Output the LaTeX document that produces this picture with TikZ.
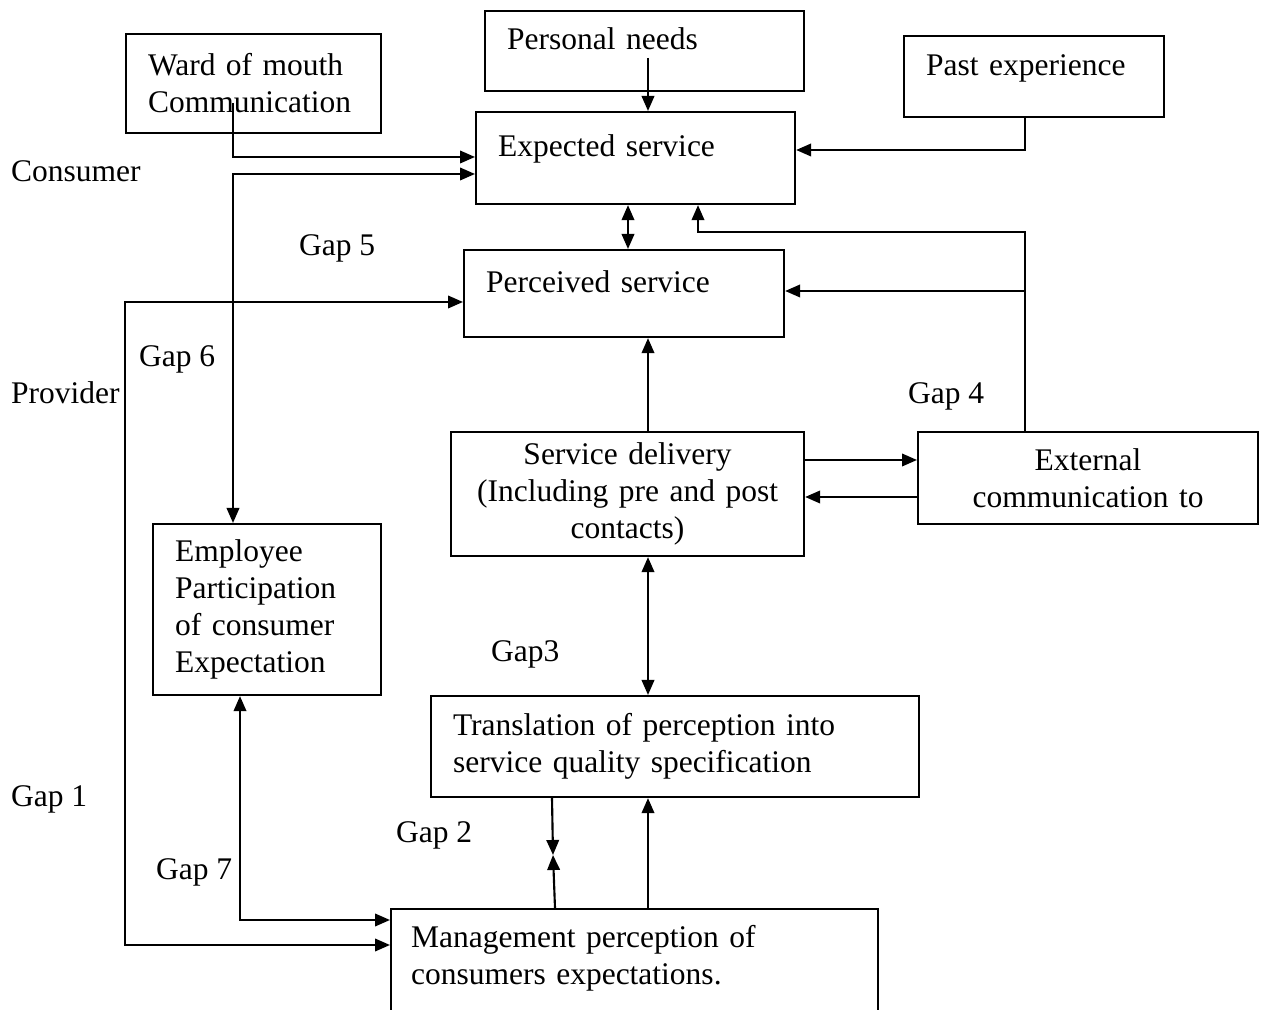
\documentclass[tikz,border=0pt]{standalone}
\usepackage{fontspec}
\setmainfont{Liberation Serif}
\usetikzlibrary{arrows.meta}

\begin{document}
\begin{tikzpicture}[x=0.4pt,y=-0.4pt,line width=0.85pt,
  >={Triangle[length=6pt,width=5pt]},
  box/.style={draw,anchor=north west,inner xsep=8.8pt,inner ysep=0pt,align=left,
    font=\fontsize{12.6}{14.8}\selectfont},
  onebox/.style={box,text height=8pt,text depth=9pt},
  midbox/.style={box,inner xsep=4pt,align=center},
  side/.style={anchor=west,inner sep=0pt,text height=8pt,text depth=0pt,
    font=\fontsize{12.6}{14.8}\selectfont}]
\useasboundingbox (0,0) rectangle (1267,1010);
\clip (0,0) rectangle (1267,1010);

\node[box,text width=84.4pt,minimum width=102pt,minimum height=39.6pt] (wm) at (125,33) {Ward of mouth\\Communication};
\node[onebox,text width=110pt,minimum width=127.6pt,minimum height=32pt] (pn) at (484,10) {Personal needs};
\node[onebox,text width=86.4pt,minimum width=104pt,minimum height=32.4pt] (px) at (903,35) {Past experience};
\node[onebox,text width=110pt,minimum width=127.6pt,minimum height=36.8pt] (es) at (475,111) {Expected service};
\node[onebox,text width=110.4pt,minimum width=128pt,minimum height=34.8pt] (ps) at (463,249) {Perceived service};
\node[midbox,text width=133.2pt,minimum width=141.2pt,minimum height=49.6pt] (sd) at (450,431) {Service delivery\\(Including pre and post\\contacts)};
\node[midbox,text width=128pt,minimum width=136pt,minimum height=36.8pt] (ec) at (917,431) {External\\communication to};
\node[box,text width=73.6pt,minimum width=91.2pt,minimum height=68.4pt] (ep) at (152,523) {Employee\\Participation\\of consumer\\Expectation};
\node[box,text width=177.6pt,minimum width=195.2pt,minimum height=40.4pt] (tq) at (430,695) {Translation of perception into\\service quality specification};
\node[box,inner xsep=8pt,text width=178.8pt,minimum width=194.8pt,minimum height=48.8pt,text height=8pt,text depth=26.4pt] (mp) at (390,908) {Management perception of\\consumers expectations.};

\node[side] (cons) at (10,172) {Consumer};
\node[side] (prov) at (10,394) {Provider};
\node[side] (gap1) at (10,797) {Gap 1};
\node[side] (gap2) at (395,833) {Gap 2};
\node[side] (gap3) at (490,652) {Gap3};
\node[side] (gap4) at (907,394) {Gap 4};
\node[side] (gap5) at (298,246) {Gap 5};
\node[side] (gap6) at (138,357) {Gap 6};
\node[side] (gap7) at (155,870) {Gap 7};

\coordinate (wmtail) at (233,103);
\coordinate (pntail) at (648,58);
\coordinate (ecup) at (1025,232);
\coordinate (ecbr) at (1025,291);
\coordinate (g1) at (125,945);
\coordinate (g2) at (553,855);

\draw[->] (wmtail) -- (233,157) -- (es.west |- 0,157);
\draw[<->] (es.west |- 0,174) -| (ep.north -| 233,0);
\draw[->] (pntail) -- (es.north -| 648,0);
\draw[->] (px.south -| 1025,0) |- (es.east |- 0,150);
\draw[<->] (es.south -| 628,0) -- (ps.north -| 628,0);
\draw[->] (ec.north -| 1025,0) -- (ecup) -| (es.south -| 698,0);
\draw[->] (ecbr) -- (ps.east |- ecbr);
\draw[->] (sd.north -| 648,0) -- (ps.south -| 648,0);
\draw[->] (sd.east |- 0,460) -- (ec.west |- 0,460);
\draw[->] (ec.west |- 0,497) -- (sd.east |- 0,497);
\draw[<->] (sd.south -| 648,0) -- (tq.north -| 648,0);
\draw[->] (tq.south -| 552,0) -- (g2);
\draw[->] (mp.north -| 555,0) -- (g2);
\draw[->] (mp.north -| 648,0) -- (tq.south -| 648,0);
\draw[<->] (ep.south -| 240,0) |- (mp.west |- 0,920);
\draw[<->] (ps.west |- 0,302) -| (g1) -- (mp.west |- g1);
\end{tikzpicture}
\end{document}
